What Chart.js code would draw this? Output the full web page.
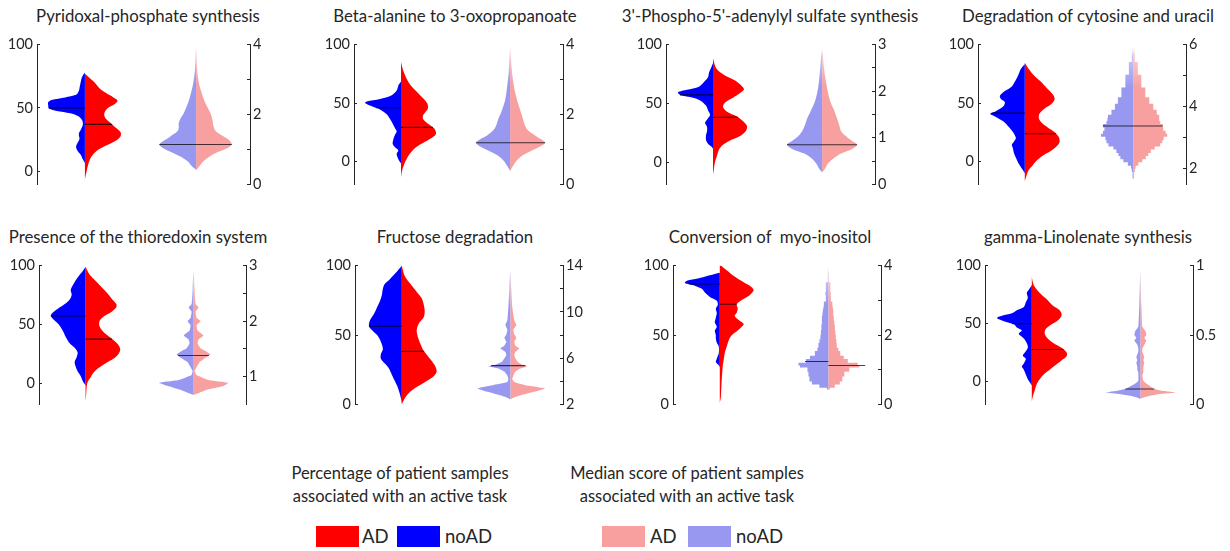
<!DOCTYPE html>
<html><head><meta charset="utf-8">
<script src="https://cdn.jsdelivr.net/npm/chart.js@4.4.0/dist/chart.umd.min.js"></script>
<style>
html,body{margin:0;padding:0;background:#fff}
body{width:1230px;height:551px;position:relative;overflow:hidden;font-family:Lato,"Open Sans",sans-serif;color:#262626}
canvas{position:absolute}
.title{position:absolute;font-size:16.8px;line-height:20px;white-space:pre;transform:translateX(-50%)}
.lgtitle{position:absolute;font-size:16.5px;line-height:23px;text-align:center;white-space:nowrap;transform:translateX(-50%)}
.box{position:absolute;width:43px;height:21px}
.lab{position:absolute;font-size:18.5px;line-height:22px;white-space:nowrap}
</style></head><body>
<script>
// ---------------- data: [value, density] pairs ----------------
const titles = ["Pyridoxal-phosphate synthesis","Beta-alanine to 3-oxopropanoate","3'-Phospho-5'-adenylyl sulfate synthesis","Degradation of cytosine and uracil","Presence of the thioredoxin system","Fructose degradation","Conversion of  myo-inositol","gamma-Linolenate synthesis"];

const pctRange = [[-10.5,100],[-19.5,100],[-19,100],[-19.5,100],[-18,100],[0,100],[0,100],[-19.5,100]];
const pctTicks = [0,50,100];
const scoreRange = [[0,4],[0,4],[0,3],[1.5,6],[0.5,3],[2,14],[0,4],[0,1]];
const scoreTicks = [[0,1,2,3,4],[0,1,2,3,4],[0,0.5,1,1.5,2,2.5,3],[2,3,4,5,6],[1,1.5,2,2.5,3],[2,4,6,8,10,12,14],[0,1,2,3,4],[0,0.5,1]];
const scoreLabels = [[0,2,4],[0,2,4],[0,1,2,3],[2,4,6],[1,2,3],[2,6,10,14],[0,2,4],[0,0.5,1]];

const pctMedNoAD = [50,46,57.2,41.4,57.2,56.3,86.8,50];
const pctMedAD = [36.9,29.2,38.2,23.8,37.5,38.2,72.2,27.8];
const scoreMedNoAD = [1.14,1.19,0.85,3.38,1.38,5.35,1.235,0.11];
const scoreMedAD = [1.14,1.19,0.85,3.38,1.38,5.35,1.12,0.11];

const pctNoAD1 = [[77.9,0],[74.6,2.7],[70.9,4],[67.1,5],[63.3,6],[60.3,8.7],[58.3,19.3],[56.3,32.7],[54.5,36],[52,36],[49.5,35.3],[47.5,27.7],[45.7,14.3],[43.2,6],[40.2,2.7],[36.9,2],[33.2,3.7],[29.4,6],[25.6,5.3],[22.6,7],[19.3,8.7],[16.1,7.3],[13.1,4.3],[9.3,2],[6.3,0]];
const pctAD1 = [[77.1,0],[73.4,5],[69.6,10],[65.8,14],[62.1,20],[58.3,28],[55.8,32],[52.8,29],[49.5,22],[45.7,19],[42,20],[38.2,25],[34.4,30],[30.7,35],[27.6,35],[24.4,31],[20.6,22],[16.8,13],[13.1,8],[9.3,5],[4.3,3],[-0.8,1.5],[-6.5,0]];
const scoreNoAD1 = [[4.07,0],[3.33,1],[2.87,3],[2.41,7],[2.04,12],[1.9,15],[1.76,17],[1.62,17],[1.53,18],[1.44,22],[1.31,28],[1.22,33],[1.14,36],[1.05,33],[0.93,25],[0.79,15],[0.65,8],[0.51,4],[0.42,0]];
const scoreAD1 = [[4.07,0],[3.33,1],[2.87,3],[2.41,8],[2.04,14],[1.85,16],[1.67,17],[1.53,19],[1.39,26],[1.25,33],[1.14,35],[1.04,31],[0.93,22],[0.79,13],[0.65,7],[0.51,3],[0.4,0]];

const pctNoAD2 = [[68.4,0],[64.9,2.7],[60.8,4.3],[56.8,9.3],[53.5,21],[51.4,34.3],[50,36],[47.3,29.3],[44.6,21],[40.5,14.3],[36.5,11],[32.4,8.3],[28.4,6],[25.7,4.3],[23,6],[18.9,7.7],[14.9,8.3],[12.2,6],[9.5,2.7],[6.8,4.3],[4.1,3.7],[0.5,1.7],[-1.4,0]];
const pctAD2 = [[85.1,0],[78.4,2],[70.3,6],[64.9,10],[59.5,16],[54.1,22],[50,26],[45.9,27],[41.9,24],[39.2,22],[36.5,22],[32.4,27],[28.4,33],[24.3,35],[21.6,33],[18.9,28],[14.9,20],[10.8,13],[6.8,9],[2.7,6],[-2.7,3],[-8.1,1],[-13.5,0]];
const scoreNoAD2 = [[4.06,0],[3.34,1],[2.78,3],[2.41,5],[2.05,9],[1.86,12],[1.68,14],[1.54,17],[1.4,23],[1.29,30],[1.19,34],[1.08,30],[0.94,20],[0.8,11],[0.66,6],[0.53,3],[0.39,0]];
const scoreAD2 = [[4.06,0],[3.34,1.5],[2.78,4],[2.41,7],[2.05,11],[1.86,13],[1.68,15],[1.54,18],[1.4,25],[1.29,31],[1.19,35],[1.08,30],[0.94,20],[0.8,11],[0.66,6],[0.53,3],[0.37,0]];

const pctNoAD3 = [[84.2,0],[80.2,2],[76.2,4],[72.2,5],[68.2,9],[64.2,14],[61.5,26],[59.4,35],[57.2,33],[54.8,20],[52.1,12],[48.1,7],[44.1,5],[40.1,3],[36.1,6],[33.4,8],[29.9,6],[26.2,6],[22.7,7],[18.7,7],[15.5,5],[12.6,1],[11.2,0]];
const pctAD3 = [[88.2,0],[80.2,3],[74.9,10],[69.5,22],[65.5,28],[62,31],[58.8,27],[54.8,20],[50.8,12],[46.8,10],[42.8,14],[38.8,24],[34.8,30],[30.7,34],[26.7,33],[22.7,28],[18.7,18],[14.7,10],[10.7,6],[5.3,4],[0,2],[-5.3,1],[-10.7,0]];
const scoreNoAD3 = [[3.0,0],[2.48,2],[2.07,4],[1.79,7],[1.59,11],[1.41,15],[1.28,17],[1.14,20],[1.03,24],[0.93,30],[0.85,35],[0.76,30],[0.66,18],[0.55,10],[0.45,6],[0.34,3],[0.26,0]];
const scoreAD3 = [[3.0,0],[2.48,2],[2.07,5],[1.79,8],[1.59,12],[1.41,15],[1.28,17],[1.14,19],[1.03,24],[0.93,30],[0.85,35],[0.76,30],[0.66,19],[0.55,11],[0.45,6],[0.34,3],[0.26,0]];

const pctNoAD4 = [[83.2,0],[79.2,4],[75.1,6],[69.7,9],[64.3,13],[60.3,20],[56.2,25],[53.5,24],[50.8,20],[46.8,22],[42.7,30],[40.8,35],[38.6,30],[34.6,22],[30.5,17],[26.5,13],[22.4,10],[19.7,9],[17,11],[14.3,13],[11.6,12],[7.6,11],[3.5,9],[-0.5,7],[-4.6,4],[-7.3,2],[-10,0]];
const pctAD4 = [[84.6,0],[79.2,4],[73.8,9],[68.4,16],[63,22],[57.6,28],[53.5,30],[49.5,27],[45.4,20],[41.4,15],[37.3,14],[33.2,17],[29.2,23],[25.1,30],[21.1,34],[17,35],[13,32],[8.9,26],[4.9,18],[0.8,12],[-3.2,8],[-7.3,4],[-11.4,2],[-16.8,0]];
const scoreNoAD4 = [[6.0,0],[5.44,3],[5.03,6],[4.62,10],[4.31,14],[4.1,17],[3.9,20],[3.74,24],[3.64,27],[3.54,25],[3.44,29],[3.33,32],[3.23,26],[3.13,35],[3.03,30],[2.92,26],[2.82,28],[2.72,22],[2.62,18],[2.51,16],[2.41,14],[2.31,12],[2.21,8],[2.1,3],[2.0,1.5],[1.9,1.5],[1.69,0]];
const scoreAD4 = [[6.0,0],[5.44,3],[5.03,6],[4.62,10],[4.31,14],[4.1,18],[3.9,22],[3.74,25],[3.64,27],[3.54,25],[3.44,29],[3.33,30],[3.23,30],[3.13,35],[3.03,33],[2.92,28],[2.82,30],[2.72,24],[2.62,19],[2.51,16],[2.41,14],[2.31,11],[2.21,7],[2.1,3],[2.0,1.5],[1.9,1.5],[1.69,0]];

const pctNoAD5 = [[99.2,0],[95.2,3],[89.9,8],[84.6,12],[79.3,15],[75.3,14],[71.3,16],[67.3,21],[63.3,28],[59.3,34],[57.2,35],[54,32],[50,27],[44.7,23],[39.4,20],[34,16],[30.1,11],[26.1,8],[22.1,9],[18.1,11],[14.1,10],[10.1,8],[6.1,5],[2.1,3],[-1.9,0]];
const pctAD5 = [[99.2,0],[92.6,4],[87.2,10],[81.9,16],[76.6,22],[71.3,27],[67.3,31],[64.6,31],[60.6,26],[56.6,18],[52.7,14],[48.7,14],[44.7,17],[40.7,22],[36.7,28],[32.7,33],[28.7,35],[24.7,33],[20.7,28],[16.8,20],[12.8,13],[8.8,8],[4.8,5],[0.8,2],[-4.5,1],[-11.2,0.5],[-15.2,0]];
const scoreNoAD5 = [[3.0,0],[2.6,1],[2.31,2],[2.25,5],[2.17,2],[2.06,3],[2.0,6],[1.93,3],[1.83,4],[1.74,10],[1.67,5],[1.6,4],[1.51,7],[1.46,12],[1.4,17],[1.34,13],[1.26,6],[1.17,3],[1.1,1],[1.03,2],[0.94,15],[0.89,35],[0.83,26],[0.77,15],[0.71,6],[0.67,0]];
const scoreAD5 = [[3.0,0],[2.6,1],[2.31,2],[2.25,5],[2.17,2],[2.06,3],[2.0,7],[1.93,3],[1.83,4],[1.74,10],[1.67,5],[1.6,4],[1.51,7],[1.46,12],[1.4,17],[1.34,12],[1.26,6],[1.17,3],[1.1,1],[1.03,3],[0.94,15],[0.89,35],[0.83,30],[0.77,15],[0.71,6],[0.67,0]];

const pctNoAD6 = [[100,0],[94.9,6],[90.3,12],[86.9,17],[83.4,19],[78.9,20],[74.3,22],[69.7,25],[65.1,28],[60.5,32],[56.3,33],[53.6,30],[50.1,25],[46.7,22],[43.2,20],[39.8,19],[36.3,21],[32.9,21],[29.4,17],[26,13],[21.4,10],[16.8,7],[12.2,4],[7.6,2],[3,0.5],[0,0]];
const pctAD6 = [[100,0],[92.6,3],[85.7,10],[81.1,15],[76.6,20],[72,22],[67.4,23],[62.8,22],[58.2,17],[53.6,15],[49,16],[43.2,19],[38.6,22],[34,27],[28.3,33],[23.7,35],[20.2,32],[16.8,25],[13.3,17],[9.9,10],[6.4,5],[3,2],[0,0]];
const scoreNoAD6 = [[14,0],[12.03,1],[10.38,2],[9.28,3],[8.87,5],[8.46,3],[8.04,4],[7.77,6],[7.41,4],[7.08,6],[6.86,10],[6.53,5],[6.26,4],[5.98,6],[5.71,8],[5.43,15],[5.3,22],[5.1,12],[4.83,6],[4.47,3],[4.2,2],[3.92,3],[3.65,18],[3.37,33],[3.1,24],[2.82,12],[2.6,4],[2.41,0]];
const scoreAD6 = [[14,0],[12.03,1],[10.38,2],[9.28,4],[8.87,6],[8.46,3],[8.04,4],[7.77,6],[7.41,4],[7.08,5],[6.86,9],[6.53,5],[6.26,4],[5.98,5],[5.71,7],[5.43,12],[5.3,17],[5.1,10],[4.83,5],[4.47,3],[4.2,2],[3.92,4],[3.65,15],[3.37,35],[3.1,25],[2.82,12],[2.6,4],[2.41,0]];

const pctNoAD7 = [[94.9,0],[93.1,10],[90.7,22],[89.1,33],[87.5,35],[85.6,25],[83.3,18],[80.6,15],[77.5,10],[74.8,3],[71.8,2],[69,4],[66,3],[62.5,4],[59,5],[56,3],[53.2,5],[49.8,4],[47.5,4],[44.4,3],[41.7,1],[37,1],[32.9,3],[30.6,4],[28.2,1],[26.6,0]];
const pctAD7 = [[100.7,0],[97.2,6],[92.6,14],[88,24],[84.5,32],[82.2,34],[78.7,30],[75.2,22],[72.2,17],[69.4,18],[66,17],[63.7,15],[60.2,20],[57.9,24],[56,22],[53.2,18],[49.8,12],[46.3,9],[41.7,7],[37,5],[32.4,4],[27.8,3],[23.1,2.5],[18.5,2],[11.6,1.5],[4.6,1],[1.2,0]];
const scoreNoAD7 = [[4.03,0],[3.52,1],[3.24,4],[3.15,2],[2.97,3],[2.83,6],[2.74,4],[2.65,7],[2.55,5],[2.41,8],[2.3,5],[2.14,9],[2.0,6],[1.88,10],[1.77,8],[1.63,12],[1.54,10],[1.4,17],[1.31,20],[1.2,25],[1.12,35],[1.06,22],[0.94,20],[0.8,20],[0.66,18],[0.57,15],[0.48,3],[0.43,0]];
const scoreAD7 = [[4.03,0],[3.52,1],[3.24,3],[3.15,2],[2.97,3],[2.83,5],[2.74,4],[2.65,6],[2.55,4],[2.41,7],[2.3,5],[2.14,8],[2.0,6],[1.88,9],[1.77,7],[1.63,10],[1.54,10],[1.4,14],[1.31,17],[1.2,22],[1.12,37],[1.06,25],[0.94,17],[0.8,15],[0.66,13],[0.57,10],[0.48,3],[0.43,0]];

const pctNoAD8 = [[83.2,0],[79.2,3],[76.5,5],[72.4,4],[68.4,6],[64.3,8],[61.6,15],[58.9,20],[56.8,30],[54.9,35],[52.2,28],[49.5,18],[46.8,15],[44.1,10],[41.4,13],[37.3,8],[33.2,5],[29.2,4],[25.1,7],[22.4,9],[19.7,6],[15.7,8],[13,10],[10.3,8],[6.2,6],[2.2,4],[-0.5,2],[-3.2,0]];
const pctAD8 = [[90,0],[83.2,2],[76.5,8],[71.1,15],[65.7,21],[61.6,28],[57.6,30],[53.5,27],[49.5,20],[45.4,14],[41.4,13],[37.3,16],[33.2,22],[29.2,30],[25.1,35],[21.9,35],[18.4,30],[14.3,24],[10.3,18],[6.2,12],[2.2,8],[-1.9,5],[-7.3,3],[-12.7,1],[-16.8,0]];
const scoreNoAD8 = [[1.0,0],[0.72,1],[0.56,2],[0.53,5],[0.5,6],[0.48,4],[0.46,6],[0.43,3],[0.4,2],[0.38,2],[0.34,4],[0.32,3],[0.3,4],[0.27,3],[0.25,3],[0.23,2],[0.21,2],[0.17,2],[0.15,5],[0.13,10],[0.11,15],[0.1,22],[0.085,35],[0.073,20],[0.062,10],[0.05,4],[0.039,0]];
const scoreAD8 = [[1.0,0],[0.72,1],[0.56,2],[0.53,5],[0.5,6],[0.48,4],[0.46,6],[0.43,4],[0.4,2],[0.38,2],[0.34,4],[0.32,3],[0.3,4],[0.27,3],[0.25,3],[0.23,3],[0.21,2],[0.17,3],[0.15,6],[0.13,10],[0.11,14],[0.1,20],[0.085,36],[0.073,18],[0.062,10],[0.05,4],[0.039,0]];

const pctNoAD = [pctNoAD1,pctNoAD2,pctNoAD3,pctNoAD4,pctNoAD5,pctNoAD6,pctNoAD7,pctNoAD8];
const pctAD = [pctAD1,pctAD2,pctAD3,pctAD4,pctAD5,pctAD6,pctAD7,pctAD8];
const scoreNoAD = [scoreNoAD1,scoreNoAD2,scoreNoAD3,scoreNoAD4,scoreNoAD5,scoreNoAD6,scoreNoAD7,scoreNoAD8];
const scoreAD = [scoreAD1,scoreAD2,scoreAD3,scoreAD4,scoreAD5,scoreAD6,scoreAD7,scoreAD8];

// ---------------- layout & style ----------------
const axL = [37,354,666,978,39,355,673,985];
const axR = [250,563,875,1186,246,563,881,1193];
const areaTop = [41,41,41,41,262,262,262,262];
const areaBot = [188,188,188,188,408,408,408,408];
const titleX = [148,455,770,1088,138,455,770,1088];
const titleTop = [6,6,6,6,226.5,226.5,226.5,226.5];
const LW = 45, RW = 40, PAD = 12;
const DENS = 1/109;           // x-units per density unit
const AXC = '#262626';
const C_AD = '#ff0000', C_NO = '#0000ff', C_AD2 = '#f8a0a0', C_NO2 = '#9898f0';
const tensions = [0.3,0.3,0.3,0,0.1,0.1,0,0.1];
const steppedRight = [false,false,false,'middle',false,false,'middle',false];

function half(profile, center, side){ return profile.map(p => ({x: center + side*p[1]*DENS, y: p[0]})); }
function widthAt(profile, v){
  for (let k=0;k<profile.length-1;k++){
    const a=profile[k], b=profile[k+1];
    if (v<=a[0] && v>=b[0]) { const t=(a[0]-v)/((a[0]-b[0])||1); return a[1]+(b[1]-a[1])*t; }
  }
  return 0;
}
function fade(color, profile){
  return (ctx) => {
    const ch = ctx.chart; const s = ch.scales && ch.scales.y2;
    if (!ch.chartArea || !s) return color;
    const y0 = s.getPixelForValue(profile[0][0]);
    const y1 = s.getPixelForValue(profile[0][0] - (profile[0][0]-profile[profile.length-1][0])*0.32);
    const g = ch.ctx.createLinearGradient(0, y0, 0, y1);
    g.addColorStop(0, 'rgba(255,255,255,0)');
    g.addColorStop(0.25, color + '88');
    g.addColorStop(1, color);
    return g;
  };
}

Chart.defaults.font.family = 'Lato, "Open Sans", sans-serif';

for (let i=0;i<8;i++){
  const cv = document.createElement('canvas');
  const w = axR[i]-axL[i]+LW+RW, h = areaBot[i]-areaTop[i]+2*PAD;
  cv.width = w; cv.height = h;
  cv.style.left = (axL[i]-LW)+'px'; cv.style.top = (areaTop[i]-PAD)+'px';
  cv.style.width = w+'px'; cv.style.height = h+'px';
  document.body.appendChild(cv);

  const t = document.createElement('div');
  t.className='title'; t.textContent = titles[i];
  t.style.left = titleX[i]+'px'; t.style.top = titleTop[i]+'px';
  document.body.appendChild(t);

  const shape = (data, color, axis, ord, ten, st) => ({data, yAxisID: axis, xAxisID:'x', fill:'shape', backgroundColor: color,
      borderColor:'rgba(0,0,0,0)', borderWidth:0, pointRadius:0, tension: ten, stepped: st || false, order: ord});
  const med = (x0, x1, v, axis) => ({data:[{x:x0,y:v},{x:x1,y:v}], yAxisID: axis, xAxisID:'x', fill:false,
      borderColor:'rgba(0,0,0,0.72)', borderWidth:1.1, pointRadius:0, order:0});

  const datasets = [
    shape(half(pctNoAD[i],1,-1), C_NO, 'y', 2, 0.3),
    shape(half(pctAD[i],1,1), C_AD, 'y', 2, 0.3),
    shape(half(scoreNoAD[i],2,-1), fade(C_NO2, scoreNoAD[i]), 'y2', 2, tensions[i], steppedRight[i]),
    shape(half(scoreAD[i],2,1), fade(C_AD2, scoreAD[i]), 'y2', 2, tensions[i], steppedRight[i]),
    med(1 - widthAt(pctNoAD[i], pctMedNoAD[i])*DENS, 1, pctMedNoAD[i], 'y'),
    med(1, 1 + widthAt(pctAD[i], pctMedAD[i])*DENS, pctMedAD[i], 'y'),
    med(2 - widthAt(scoreNoAD[i], scoreMedNoAD[i])*DENS, 2, scoreMedNoAD[i], 'y2'),
    med(2, 2 + widthAt(scoreAD[i], scoreMedAD[i])*DENS, scoreMedAD[i], 'y2'),
  ];

  const axisCommon = {
    type:'linear',
    grid:{drawOnChartArea:false, drawTicks:true, tickLength:-3, color:AXC, lineWidth:1},
    border:{display:true, color:AXC, width:1},
  };
  new Chart(cv, {
    type:'line',
    data:{datasets},
    options:{
      responsive:false, animation:false, devicePixelRatio:1, events:[],
      layout:{padding:{top:PAD,bottom:PAD,left:0,right:0}},
      plugins:{legend:{display:false}, tooltip:{enabled:false}, title:{display:false}},
      elements:{point:{radius:0,hoverRadius:0}},
      scales:{
        x:{type:'linear', display:false, min:0.569, max:2.485},
        y:Object.assign({}, axisCommon, {position:'left', min:pctRange[i][0], max:pctRange[i][1],
          afterFit: s => { s.width = LW; },
          afterBuildTicks: s => { s.ticks = pctTicks.map(v => ({value:v})); },
          ticks:{padding:7, color:AXC, font:{size:14.5}, callback: v => String(v)}}),
        y2:Object.assign({}, axisCommon, {position:'right', min:scoreRange[i][0], max:scoreRange[i][1],
          afterFit: s => { s.width = RW; },
          afterBuildTicks: s => { s.ticks = scoreTicks[i].map(v => ({value:v})); },
          ticks:{padding:6, color:AXC, font:{size:14.5}, callback: v => scoreLabels[i].includes(v) ? String(v) : ''}})
      }
    }
  });
}

// ---------------- legends ----------------
function addDiv(cls, text, x, y, bg){
  const d = document.createElement('div'); d.className = cls;
  if (text) d.innerHTML = text;
  d.style.left = x+'px'; d.style.top = y+'px';
  if (bg) d.style.background = bg;
  document.body.appendChild(d);
}
addDiv('lgtitle','Percentage of patient samples<br>associated with an active task',400,462);
addDiv('lgtitle','Median score of patient samples<br>associated with an active task',687,462);
addDiv('box','',316,526,C_AD); addDiv('lab','AD',362,525);
addDiv('box','',397,526,C_NO); addDiv('lab','noAD',445,525);
addDiv('box','',602,526,C_AD2); addDiv('lab','AD',650,525);
addDiv('box','',688,526,C_NO2); addDiv('lab','noAD',736,525);
</script>
</body></html>
